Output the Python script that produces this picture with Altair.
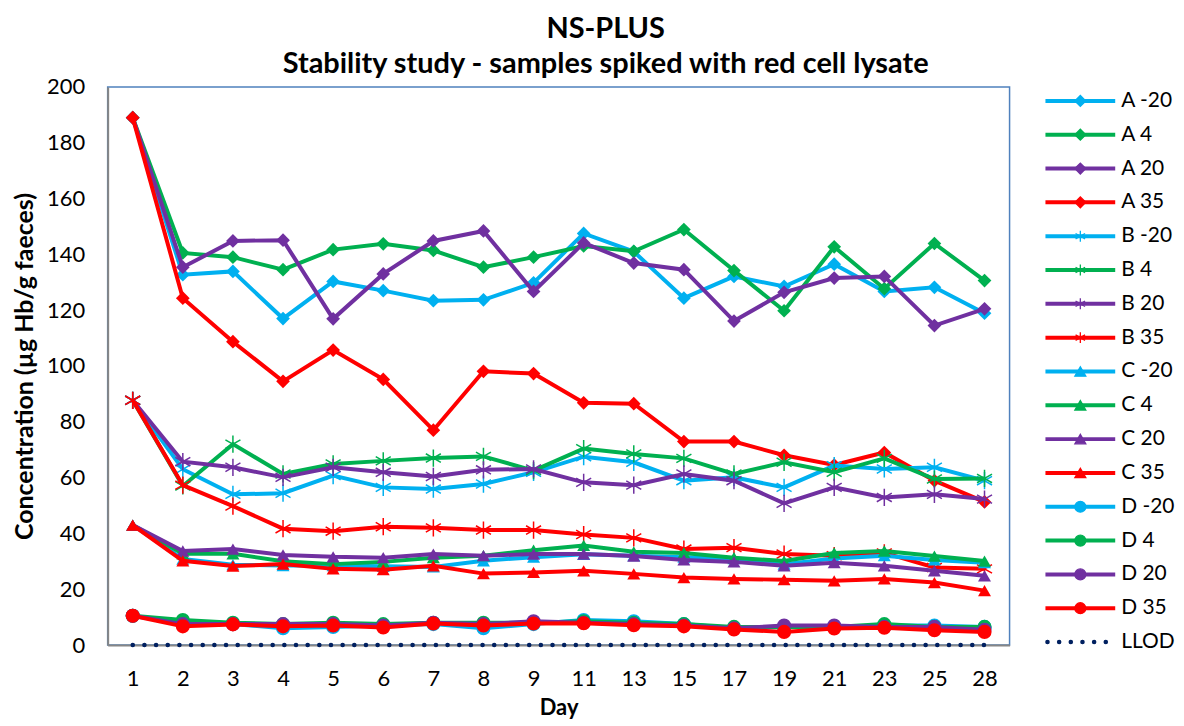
import altair as alt
import pandas as pd

# Days sampled (categorical axis in the original)
days = [1, 2, 3, 4, 5, 6, 7, 8, 9, 11, 13, 15, 17, 19, 21, 23, 25, 28]

# Concentration (ug Hb/g faeces)
a_m20 = [189, 132.7, 133.9, 117, 130.3, 127, 123.4, 123.7, 129.8, 147.5, 141, 124.3, 132.1, 128.5, 136.5, 126.7, 128.2, 118.9]
a_4 = [189, 140.5, 139, 134.5, 141.7, 143.8, 141.4, 135.4, 139, 143, 141.1, 148.9, 134.2, 119.8, 142.7, 127.7, 143.9, 130.6]
a_20 = [189, 135.4, 144.8, 145.1, 116.9, 133, 144.8, 148.4, 126.7, 144.1, 136.9, 134.5, 116.1, 126.4, 131.5, 132.1, 114.5, 120.5]
a_35 = [189, 124.3, 108.7, 94.5, 105.7, 95.2, 77, 98.1, 97.3, 86.8, 86.5, 72.9, 72.9, 68, 64.5, 69, 58.9, 51.3]

b_m20 = [87.7, 63, 54, 54.4, 60.7, 56.5, 55.9, 57.7, 61.9, 67.5, 65.5, 58.9, 60.1, 56.5, 64.3, 63.1, 63.7, 58.9]
b_4 = [87.7, 57, 72, 61.3, 64.9, 66, 67, 67.6, 62.5, 70.4, 68.5, 66.9, 61.3, 65.5, 61.9, 66.9, 59.5, 59.7]
b_20 = [87.7, 65.7, 63.7, 60.1, 63.7, 61.9, 60.4, 62.8, 63.1, 58.3, 57.3, 61.3, 58.9, 50.8, 56.5, 52.9, 54, 52.3]
b_35 = [87.7, 57.3, 49.8, 41.7, 40.8, 42.4, 42, 41.2, 41.2, 39.6, 38.4, 34.4, 34.9, 32.6, 32, 33, 27.8, 27.3]

c_m20 = [43, 30.8, 28.8, 28.5, 28.5, 28.2, 28, 30.2, 31.5, 32.5, 32, 31.5, 31, 29, 31, 32, 30.5, 29.5]
c_4 = [43, 32.7, 32.7, 30, 29, 29.8, 31.3, 32, 34, 35.7, 33.4, 33, 31.3, 30.1, 33, 33.7, 31.9, 30.1]
c_20 = [43, 33.7, 34.4, 32.3, 31.6, 31.3, 32.6, 32, 32.6, 32.6, 31.9, 30.5, 29.8, 28.4, 29.5, 28.4, 26.6, 24.8]
c_35 = [43, 30.2, 28.3, 29, 27.3, 27, 28.4, 25.6, 26, 26.6, 25.5, 24.2, 23.7, 23.4, 23, 23.7, 22.4, 19.5]

d_m20 = [10.5, 8, 7.5, 6, 6.5, 7, 7.5, 6, 7.5, 9, 8.5, 7.5, 6, 6.5, 6.5, 7, 7, 6.5]
d_4 = [10.5, 9, 8, 7.5, 8, 7.5, 8, 8, 8, 8.5, 8, 7.5, 6.5, 6.5, 6.5, 7.5, 6.5, 6.5]
d_20 = [10.5, 7.5, 7.5, 7.5, 7.5, 7, 8, 7.5, 8.5, 8, 7.5, 7, 6, 7, 7, 6.5, 6.5, 5.5]
d_35 = [10.5, 6.7, 7.4, 6.7, 7, 6.3, 7.7, 7, 7.7, 7.8, 7.1, 6.7, 5.6, 4.7, 5.9, 6.2, 5.3, 4.7]

llod = [0] * len(days)

series_names = ["A -20", "A 4", "A 20", "A 35",
                "B -20", "B 4", "B 20", "B 35",
                "C -20", "C 4", "C 20", "C 35",
                "D -20", "D 4", "D 20", "D 35"]
series_values = [a_m20, a_4, a_20, a_35, b_m20, b_4, b_20, b_35,
                 c_m20, c_4, c_20, c_35, d_m20, d_4, d_20, d_35]

temp_colours = ["#00B0F0", "#00B050", "#7030A0", "#FF0000"]
asterisk = "M0,-1L0,1M-0.87,-0.5L0.87,0.5M-0.87,0.5L0.87,-0.5"
group_shapes = ["diamond", asterisk, "triangle-up", "circle"]
group_sizes = [190, 300, 170, 200]
llod_colour = "#002060"

FONT = "Lato"
day_labels = [str(d) for d in days]

# long-form table
rows = []
for name, vals in zip(series_names, series_values):
    for d, v in zip(day_labels, vals):
        rows.append({"day": d, "value": v, "series": name})
df = pd.DataFrame(rows)
df_llod = pd.DataFrame({"day": day_labels, "value": llod, "series": "LLOD"})

x_enc = alt.X("day:O", sort=day_labels,
              scale=alt.Scale(domain=day_labels, padding=0.5),
              axis=alt.Axis(title="Day", labelAngle=0, ticks=False, labelPadding=24,
                            titlePadding=8))
y_enc = alt.Y("value:Q", scale=alt.Scale(domain=[0, 200], nice=False),
              axis=alt.Axis(title="Concentration (µg Hb/g faeces)", values=list(range(0, 201, 20)),
                            ticks=False, labelPadding=23, titlePadding=9, titleFontSize=25,
                            grid=False))

layers = []
for i, name in enumerate(series_names):
    colour = temp_colours[i % 4]
    shape = group_shapes[i // 4]
    base = alt.Chart(df).transform_filter(alt.datum.series == name)
    line = base.mark_line(color=colour, strokeWidth=4).encode(x=x_enc, y=y_enc)
    pts = base.mark_point(shape=shape, size=group_sizes[i // 4], color=colour, opacity=1,
                          filled=(shape != asterisk), strokeWidth=1.5).encode(x=x_enc, y=y_enc)
    layers += [line, pts]

llod_line = alt.Chart(df_llod).mark_line(
    color=llod_colour, strokeWidth=4.5, strokeDash=[0.1, 11.6], strokeCap="round"
).encode(x=x_enc, y=y_enc)
layers.append(llod_line)

main = alt.layer(*layers).properties(width=905, height=560)

# legend panel: line + marker + label per series
legend_order = series_names + ["LLOD"]
leg_df = pd.DataFrame({
    "series": legend_order,
    "row": list(range(len(legend_order))),
    "colour": [temp_colours[i % 4] for i in range(16)] + [llod_colour],
    "shape": [group_shapes[i // 4] for i in range(16)] + ["circle"],
    "fill": [("transparent" if group_shapes[i // 4] == asterisk else temp_colours[i % 4]) for i in range(16)] + [llod_colour],
})
leg_y = alt.Y("row:Q", scale=alt.Scale(domain=[0, len(legend_order) - 1], range=[14, 557]), axis=None)
leg_base = alt.Chart(leg_df)
leg_lines = leg_base.transform_filter(alt.datum.series != "LLOD").mark_rule(strokeWidth=4).encode(
    x=alt.value(0), x2=alt.value(70), y=leg_y, color=alt.Color("colour:N", scale=None))
leg_llod = leg_base.transform_filter(alt.datum.series == "LLOD").mark_rule(
    strokeWidth=4.5, strokeDash=[0.1, 11.6], strokeCap="round").encode(
    x=alt.value(2), x2=alt.value(70), y=leg_y, color=alt.Color("colour:N", scale=None))
leg_pts = leg_base.transform_filter(alt.datum.series != "LLOD").mark_point(
    size=120, opacity=1, strokeWidth=1.3).encode(
    x=alt.value(35), y=leg_y,
    shape=alt.Shape("shape:N", scale=None),
    stroke=alt.Stroke("colour:N", scale=None),
    fill=alt.Fill("fill:N", scale=None))
leg_text = leg_base.mark_text(align="left", baseline="middle", fontSize=21, font=FONT).encode(
    x=alt.value(76), y=leg_y, text="series:N")
legend = alt.layer(leg_lines, leg_llod, leg_pts, leg_text).properties(
    width=128, height=560, view=alt.ViewBackground(stroke="transparent"))

chart = alt.hconcat(main, legend, spacing=32).properties(
    title=alt.Title(["NS-PLUS", "Stability study - samples spiked with red cell lysate"],
                    fontSize=29, font=FONT, fontWeight="bold", lineHeight=35,
                    anchor="middle", offset=-4, dx=12, color="black"),
    padding={"left": 3, "top": 6, "right": 0, "bottom": 0},
).configure_view(
    stroke="#4F81BD", strokeWidth=1.5
).configure_axis(
    labelFont=FONT, labelFontSize=22, labelColor="black",
    titleFont=FONT, titleFontSize=22, titleFontWeight="bold", titleColor="black",
    domainColor="#868686", domainWidth=2, grid=False
)

chart.save("out.html", embed_options={"renderer": "svg", "actions": False})
